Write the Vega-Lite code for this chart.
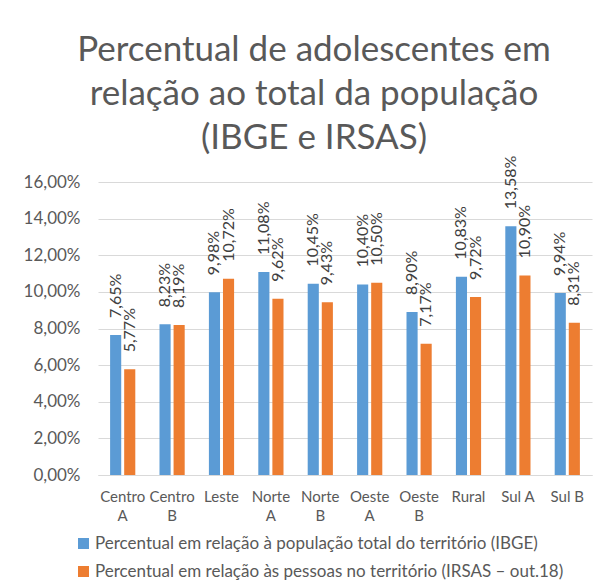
{
  "$schema": "https://vega.github.io/schema/vega-lite/v6.json",
  "width": 494,
  "height": 293,
  "autosize": {"type": "none"},
  "padding": {"left": 98, "top": 182, "right": 15, "bottom": 105},
  "background": "white",
  "config": {
    "locale": {"number": {"decimal": ",", "thousands": ".", "grouping": [3], "currency": ["R$", ""]}},
    "view": {"stroke": null},
    "font": "Lato"
  },
  "title": {
    "text": ["Percentual de adolescentes em", "relação ao total da população", "(IBGE e IRSAS)"],
    "fontSize": 35,
    "font": "Lato",
    "fontWeight": "normal",
    "color": "#595959",
    "lineHeight": 44,
    "anchor": "middle",
    "dx": -31,
    "offset": 0
  },
  "data": {
    "values": [
      {"territorio": "Centro A", "serie": "Percentual em relação à população total do território (IBGE)", "valor": 0.0765},
      {"territorio": "Centro A", "serie": "Percentual em relação às pessoas no território (IRSAS – out.18)", "valor": 0.0577},
      {"territorio": "Centro B", "serie": "Percentual em relação à população total do território (IBGE)", "valor": 0.0823},
      {"territorio": "Centro B", "serie": "Percentual em relação às pessoas no território (IRSAS – out.18)", "valor": 0.0819},
      {"territorio": "Leste", "serie": "Percentual em relação à população total do território (IBGE)", "valor": 0.0998},
      {"territorio": "Leste", "serie": "Percentual em relação às pessoas no território (IRSAS – out.18)", "valor": 0.1072},
      {"territorio": "Norte A", "serie": "Percentual em relação à população total do território (IBGE)", "valor": 0.1108},
      {"territorio": "Norte A", "serie": "Percentual em relação às pessoas no território (IRSAS – out.18)", "valor": 0.0962},
      {"territorio": "Norte B", "serie": "Percentual em relação à população total do território (IBGE)", "valor": 0.1045},
      {"territorio": "Norte B", "serie": "Percentual em relação às pessoas no território (IRSAS – out.18)", "valor": 0.0943},
      {"territorio": "Oeste A", "serie": "Percentual em relação à população total do território (IBGE)", "valor": 0.1040},
      {"territorio": "Oeste A", "serie": "Percentual em relação às pessoas no território (IRSAS – out.18)", "valor": 0.1050},
      {"territorio": "Oeste B", "serie": "Percentual em relação à população total do território (IBGE)", "valor": 0.0890},
      {"territorio": "Oeste B", "serie": "Percentual em relação às pessoas no território (IRSAS – out.18)", "valor": 0.0717},
      {"territorio": "Rural", "serie": "Percentual em relação à população total do território (IBGE)", "valor": 0.1083},
      {"territorio": "Rural", "serie": "Percentual em relação às pessoas no território (IRSAS – out.18)", "valor": 0.0972},
      {"territorio": "Sul A", "serie": "Percentual em relação à população total do território (IBGE)", "valor": 0.1358},
      {"territorio": "Sul A", "serie": "Percentual em relação às pessoas no território (IRSAS – out.18)", "valor": 0.1090},
      {"territorio": "Sul B", "serie": "Percentual em relação à população total do território (IBGE)", "valor": 0.0994},
      {"territorio": "Sul B", "serie": "Percentual em relação às pessoas no território (IRSAS – out.18)", "valor": 0.0831}
    ]
  },
  "encoding": {
    "x": {
      "field": "territorio",
      "type": "nominal",
      "sort": null,
      "scale": {"paddingInner": 0.49, "paddingOuter": 0.245},
      "axis": {
        "title": null,
        "labelAngle": 0,
        "labelFont": "Lato",
        "labelFontSize": 15,
        "labelColor": "#595959",
        "labelPadding": 14,
        "labelBaseline": "top",
        "labelLineHeight": 19,
        "labelExpr": "indexof(datum.label, 'Sul') == 0 || indexof(datum.label, ' ') < 0 ? datum.label : split(datum.label, ' ')",
        "ticks": false,
        "tickSize": 0,
        "domainColor": "#D9D9D9",
        "domainWidth": 1,
        "grid": false
      }
    },
    "xOffset": {
      "field": "serie",
      "type": "nominal",
      "sort": null,
      "scale": {"paddingInner": 0.21, "paddingOuter": 0}
    },
    "y": {
      "field": "valor",
      "type": "quantitative",
      "scale": {"domain": [0, 0.16], "nice": false},
      "axis": {
        "title": null,
        "format": ".2%",
        "values": [0, 0.02, 0.04, 0.06, 0.08, 0.1, 0.12, 0.14, 0.16],
        "labelFont": "Lato",
        "labelFontSize": 17,
        "labelColor": "#595959",
        "labelPadding": 18,
        "ticks": false,
        "tickSize": 0,
        "domain": false,
        "gridColor": "#D9D9D9",
        "gridWidth": 1
      }
    }
  },
  "layer": [
    {
      "mark": {"type": "bar"},
      "encoding": {
        "color": {
          "field": "serie",
          "type": "nominal",
          "sort": null,
          "scale": {
            "domain": ["Percentual em relação à população total do território (IBGE)", "Percentual em relação às pessoas no território (IRSAS – out.18)"],
            "range": ["#5B9BD5", "#ED7D31"]
          },
          "legend": {
            "title": null,
            "orient": "none",
            "legendX": -23,
            "legendY": 353,
            "direction": "vertical",
            "symbolType": "square",
            "symbolSize": 121,
            "symbolStrokeWidth": 0,
            "labelFont": "Lato",
            "labelFontSize": 17,
            "labelColor": "#595959",
            "labelOffset": 3,
            "labelLimit": 600,
            "rowPadding": 10,
            "padding": 0
          }
        }
      }
    },
    {
      "mark": {"type": "text", "angle": 270, "align": "left", "baseline": "middle", "dx": 17, "font": "Lato", "fontSize": 16, "color": "#404040"},
      "encoding": {
        "text": {"field": "valor", "type": "quantitative", "format": ".2%"}
      }
    }
  ]
}
